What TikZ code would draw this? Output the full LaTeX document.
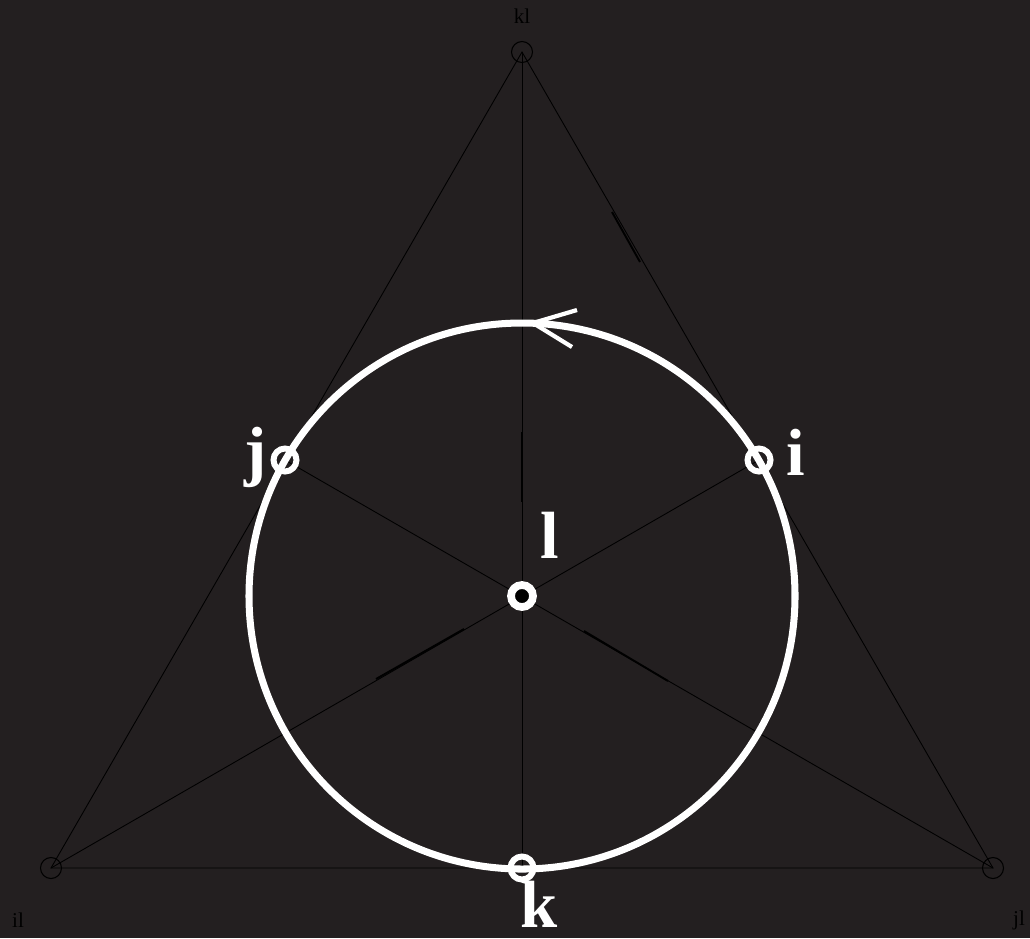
\documentclass[tikz,border=0pt]{standalone}
\usepackage{fontspec}
\setmainfont{Liberation Serif}
\usepackage{tikz}
\usetikzlibrary{arrows.meta,positioning}
\definecolor{bgdark}{RGB}{35,31,32}
\tikzset{
    edge/.style={draw=black, line width=0.5pt},
    tick/.style={draw=black, line width=1.1pt},
    vtx/.style={circle, draw=black, line width=0.6pt, minimum size=0.42cm, inner sep=0pt},
    ring/.style={circle, draw=white, line width=3.4pt, minimum size=0.46cm, inner sep=0pt},
    hub/.style={circle, draw=white, fill=black, line width=4.4pt, minimum size=0.44cm, inner sep=0pt},
    loopc/.style={draw=white, line width=4pt},
    barb/.style={draw=white, line width=2.4pt},
    small/.style={font=\fontsize{12}{14}\selectfont, text=black},
    big/.style={font=\fontsize{38}{44}\selectfont\bfseries, text=white},
}
\begin{document}
\begin{tikzpicture}[x=0.02cm, y=-0.02cm]
    \useasboundingbox[fill=bgdark] (0,0) rectangle (1030,938);

    % Triangle vertices
    \node[vtx] (kl) at (522,52)  {};
    \node[vtx] (il) at (51,868)  {};
    \node[vtx] (jl) at (993,868) {};
    \coordinate (i) at (759,460);
    \coordinate (j) at (285,460);
    \coordinate (k) at (522,868);
    \coordinate (l) at (522,596);

    % Triangle and spokes
    \draw[edge] (kl.center) -- (il.center) -- (jl.center) -- cycle;
    \draw[edge] (kl.center) -- (k);
    \draw[edge] (il.center) -- (i);
    \draw[edge] (jl.center) -- (j);

    % Faint marks on the spokes
    \draw[tick] (522,432) -- (522,502);
    \draw[tick] (376,679) -- (464,629);
    \draw[tick] (584,631) -- (668,681);
    \draw[tick] (612,212) -- (640,262);

    % Incircle with its orientation
    \draw[loopc] (l) circle[radius=273];
    \draw[barb] (577,310) -- (533,323) -- (572,347);

    % Points on the circle
    \node[ring] (pi) at (i) {};
    \node[ring] (pj) at (j) {};
    \node[ring] (pk) at (k) {};
    \node[hub]  (pl) at (l) {};

    % Labels
    \node[small] (tkl) at (522,16)  {kl};
    \node[small] (til) at (18,920)  {il};
    \node[small] (tjl) at (1019,920) {jl};
    \node[big] (ti) at (796,452) {i};
    \node[big] (tj) at (256,457) {j};
    \node[big, inner sep=0pt, anchor=base] (tk) at (539,927) {k};
    \node[big] (tl) at (550,535) {l};
\end{tikzpicture}
\end{document}
